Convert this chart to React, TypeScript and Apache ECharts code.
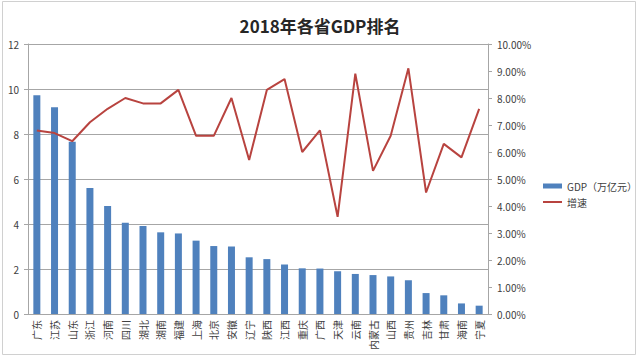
import React, { useEffect, useRef } from "react";
import * as echarts from "echarts";

const provinces = ["广东", "江苏", "山东", "浙江", "河南", "四川", "湖北", "湖南", "福建", "上海", "北京", "安徽", "辽宁", "陕西", "江西", "重庆", "广西", "天津", "云南", "内蒙古", "山西", "贵州", "吉林", "甘肃", "海南", "宁夏"];
const gdp = [9.72, 9.19, 7.66, 5.6, 4.8, 4.06, 3.91, 3.63, 3.58, 3.26, 3.02, 3.0, 2.52, 2.44, 2.2, 2.03, 2.02, 1.9, 1.78, 1.73, 1.67, 1.5, 0.93, 0.83, 0.47, 0.37];
const growth = [6.8, 6.7, 6.4, 7.1, 7.6, 8.0, 7.8, 7.8, 8.3, 6.6, 6.6, 8.0, 5.7, 8.3, 8.7, 6.0, 6.8, 3.6, 8.9, 5.3, 6.6, 9.1, 4.5, 6.3, 5.8, 7.6];
const titleText = "2018年各省GDP排名";
const seriesNames = ["GDP（万亿元）", "增速"];

export default function App() {
  const ref = useRef<HTMLDivElement>(null);
  useEffect(() => {
    document.body.style.margin = "0";
    const chart = echarts.init(ref.current!, undefined, { renderer: "svg" });
    const font = "'Microsoft YaHei', 'Noto Sans CJK SC', sans-serif";
    const axisColor = "#a6a6a6";
    const labelColor = "#404040";
    const lineColor = "#b8433f";
    chart.setOption({
      animation: false,
      backgroundColor: "#ffffff",
      textStyle: { fontFamily: font },
      title: {
        text: titleText,
        left: "center",
        top: 12,
        textStyle: { fontSize: 17, fontWeight: "bold", color: "#262626", fontFamily: font },
      },
      graphic: [
        {
          type: "rect",
          shape: { x: 2.5, y: 1.5, width: 633, height: 353 },
          style: { fill: "none", stroke: "#d0d0d0", lineWidth: 1 },
          silent: true,
        },
      ],
      legend: {
        orient: "vertical",
        left: 538,
        top: 176,
        itemWidth: 19,
        itemHeight: 5,
        itemGap: 6,
        symbolKeepAspect: true,
        textStyle: { fontSize: 10, color: labelColor, fontFamily: font },
        data: [
          { name: seriesNames[0], icon: "rect" },
          { name: seriesNames[1], icon: "path://M0,0H19V2H0Z", itemStyle: { color: lineColor } },
        ],
      },
      grid: { left: 28, right: 152, top: 44, bottom: 45 },
      xAxis: {
        type: "category",
        data: provinces,
        boundaryGap: true,
        axisLine: { lineStyle: { color: axisColor } },
        axisTick: { show: false },
        axisLabel: {
          rotate: 90,
          interval: 0,
          margin: 6,
          fontSize: 10,
          color: labelColor,
          fontFamily: font,
        },
      },
      yAxis: [
        {
          type: "value",
          min: 0,
          max: 12,
          interval: 2,
          axisLine: { show: true, lineStyle: { color: axisColor } },
          axisTick: { show: true, length: 4, lineStyle: { color: axisColor } },
          splitLine: { lineStyle: { color: axisColor } },
          axisLabel: { fontSize: 10, color: labelColor, margin: 9, fontFamily: font },
        },
        {
          type: "value",
          min: 0,
          max: 10,
          interval: 1,
          position: "right",
          axisLine: { show: true, lineStyle: { color: axisColor } },
          axisTick: { show: true, length: 4, lineStyle: { color: axisColor } },
          splitLine: { show: false },
          axisLabel: {
            fontSize: 10,
            color: labelColor,
            margin: 9,
            fontFamily: font,
            formatter: (v: number) => v.toFixed(2) + "%",
          },
        },
      ],
      series: [
        {
          name: seriesNames[0],
          type: "bar",
          data: gdp,
          barWidth: 7,
          itemStyle: { color: "#4f81bd" },
          yAxisIndex: 0,
        },
        {
          name: seriesNames[1],
          type: "line",
          data: growth,
          yAxisIndex: 1,
          symbol: "none",
          lineStyle: { color: lineColor, width: 2 },
          itemStyle: { color: lineColor },
        },
      ],
    });
    return () => chart.dispose();
  }, []);
  return <div ref={ref} style={{ width: 640, height: 359 }} />;
}
